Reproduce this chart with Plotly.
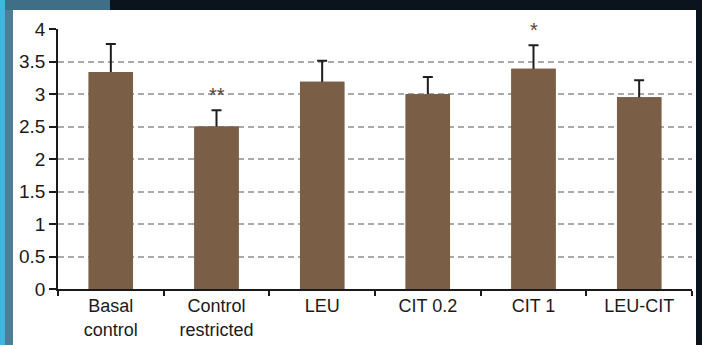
import plotly.graph_objects as go

categories = ["Basal<br>control", "Control<br>restricted", "LEU", "CIT 0.2", "CIT 1", "LEU-CIT"]
means = [3.34, 2.50, 3.19, 3.00, 3.39, 2.95]
errors = [0.43, 0.25, 0.32, 0.26, 0.36, 0.26]
sig_labels = ["", "**", "", "", "*", ""]
sig_y = [None, 2.98, None, None, 3.99, None]
y_ticks = [0, 0.5, 1, 1.5, 2, 2.5, 3, 3.5, 4]
y_tick_text = ["0", "0.5", "1", "1.5", "2", "2.5", "3", "3.5", "4"]

W, H = 702, 345
L, R, T, B = 58, 10, 29, 56
pw, ph = W - L - R, H - T - B

def px(x):
    return (x - L) / pw

def py(y):
    return (H - B - y) / ph

bar_color = "#7a5e46"
fig = go.Figure()
# bar with symmetric error bars (lower half hidden by the overlaid bar below)
fig.add_trace(go.Bar(
    x=categories, y=means, width=0.42,
    marker=dict(color=bar_color, line=dict(width=0)),
    error_y=dict(type="data", array=errors, symmetric=True,
                 color="#1e1e1e", thickness=2, width=5),
))
fig.add_trace(go.Bar(
    x=categories, y=means, width=0.42,
    marker=dict(color=bar_color, line=dict(width=0)),
    hoverinfo="skip",
))

for c, lab, yv in zip(categories, sig_labels, sig_y):
    if lab:
        fig.add_annotation(x=c, y=yv, text=lab, showarrow=False, yanchor="middle",
                           font=dict(family="Arial, Liberation Sans", size=20, color="#5a4535"))

shapes = [
    dict(type="rect", xref="paper", yref="paper", x0=px(13), x1=px(696), y0=py(345), y1=py(10),
         fillcolor="white", line=dict(width=0), layer="below"),
    dict(type="rect", xref="paper", yref="paper", x0=px(0), x1=px(5), y0=py(345), y1=py(0),
         fillcolor="#3fb5df", line=dict(width=0), layer="below"),
    dict(type="rect", xref="paper", yref="paper", x0=px(5), x1=px(13), y0=py(345), y1=py(10),
         fillcolor="#4c7f96", line=dict(width=0), layer="below"),
    dict(type="rect", xref="paper", yref="paper", x0=px(5), x1=px(110), y0=py(10), y1=py(0),
         fillcolor="#3f6f86", line=dict(width=0), layer="below"),
]

fig.update_layout(
    width=W, height=H,
    margin=dict(l=L, r=R, t=T, b=B, autoexpand=False),
    paper_bgcolor="#0b141c",
    plot_bgcolor="rgba(0,0,0,0)",
    showlegend=False,
    shapes=shapes,
    barmode="overlay",
    font=dict(family="Arial, Liberation Sans", color="#1a1a1a"),
)
fig.update_xaxes(
    type="category", tickson="boundaries", ticks="outside", ticklen=5, tickwidth=1.5,
    tickcolor="#1a1a1a", showline=True, linecolor="#1a1a1a", linewidth=1.5,
    tickfont=dict(size=18, color="#1a1a1a"), showgrid=False, automargin=False,
)
fig.update_yaxes(
    range=[0, 4], tickvals=y_ticks, ticktext=y_tick_text, ticks="outside", ticklen=7,
    tickwidth=1.5, tickcolor="#1a1a1a", showline=True, linecolor="#1a1a1a", linewidth=1.5,
    tickfont=dict(size=19, color="#1a1a1a"), showgrid=True, gridcolor="#aaaaaa",
    gridwidth=1.5, griddash="6px,4px", zeroline=False, automargin=False,
)

fig.write_html(
    "out.html",
    config={"displayModeBar": False},
    post_script="document.body.style.margin='0';document.body.style.overflow='hidden';window.scrollTo(0,0);",
)
